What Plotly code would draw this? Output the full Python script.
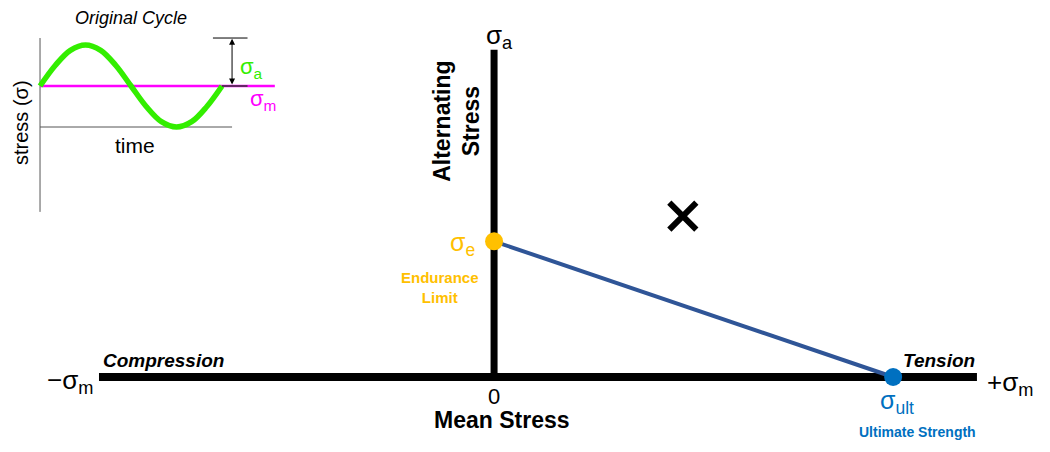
"""Goodman diagram with an inset of the original stress cycle."""

import plotly.graph_objects as go

# main diagram (arbitrary stress units, ultimate strength = 100)
SIGMA_ULT = 100
SIGMA_E = 34
OPERATING_POINT = (47.3, 40.3)
MEAN_AXIS_EXTENT = [-99, 121]
ALT_AXIS_EXTENT = [0, 82]

# inset: one cycle of the original stress history (time in periods, stress / amplitude)
cycle_time = [0, 1 / 12, 2 / 12, 3 / 12, 4 / 12, 5 / 12, 6 / 12, 7 / 12, 8 / 12, 9 / 12, 10 / 12, 11 / 12, 1]
cycle_stress = [0, 0.5, 0.87, 1, 0.87, 0.5, 0, -0.5, -0.87, -1, -0.87, -0.5, 0]
TIME_AXIS_EXTENT = [0, 1.055]
STRESS_AXIS_EXTENT = [-3.07, 1.17]
MEAN_LINE_EXTENT = [0, 1.29]
AMPLITUDE_MARK = 1.15

FONT = "Liberation Sans, Arial, sans-serif"
BLACK = "#000000"
ORANGE = "#FFC000"
BLUE = "#0070C0"
LINE_BLUE = "#2F5597"
GREEN = "#33EE00"
MAGENTA = "#FF00FF"

fig = go.Figure()

# ---- main Goodman diagram ----
fig.add_trace(go.Scatter(
    x=MEAN_AXIS_EXTENT, y=[0, 0], mode="lines",
    line=dict(color=BLACK, width=8), hoverinfo="skip",
))
fig.add_trace(go.Scatter(
    x=[0, 0], y=ALT_AXIS_EXTENT, mode="lines",
    line=dict(color=BLACK, width=7), hoverinfo="skip",
))
fig.add_trace(go.Scatter(
    x=[0, SIGMA_ULT], y=[SIGMA_E, 0], mode="lines",
    line=dict(color=LINE_BLUE, width=4), hoverinfo="skip",
))
fig.add_trace(go.Scatter(
    x=[0], y=[SIGMA_E], mode="markers",
    marker=dict(color=ORANGE, size=18), hoverinfo="skip",
))
fig.add_trace(go.Scatter(
    x=[SIGMA_ULT], y=[0], mode="markers",
    marker=dict(color=BLUE, size=18), hoverinfo="skip",
))
fig.add_trace(go.Scatter(
    x=[OPERATING_POINT[0]], y=[OPERATING_POINT[1]], mode="markers",
    marker=dict(symbol="x-thin", size=27, line=dict(color=BLACK, width=6)),
    hoverinfo="skip",
))

# ---- inset: original cycle ----
fig.add_trace(go.Scatter(
    x=[0, 0], y=STRESS_AXIS_EXTENT, mode="lines", xaxis="x2", yaxis="y2",
    line=dict(color="#555555", width=1), hoverinfo="skip",
))
fig.add_trace(go.Scatter(
    x=TIME_AXIS_EXTENT, y=[-1, -1], mode="lines", xaxis="x2", yaxis="y2",
    line=dict(color="#555555", width=1), hoverinfo="skip",
))
fig.add_trace(go.Scatter(
    x=MEAN_LINE_EXTENT, y=[0, 0], mode="lines", xaxis="x2", yaxis="y2",
    line=dict(color=MAGENTA, width=2.5), hoverinfo="skip",
))
fig.add_trace(go.Scatter(
    x=cycle_time, y=cycle_stress, mode="lines", xaxis="x2", yaxis="y2",
    line=dict(color=GREEN, width=5.5, shape="spline"), hoverinfo="skip",
))
fig.add_trace(go.Scatter(
    x=[0.95, 1.14], y=[STRESS_AXIS_EXTENT[1], STRESS_AXIS_EXTENT[1]], mode="lines",
    xaxis="x2", yaxis="y2", line=dict(color=BLACK, width=1), hoverinfo="skip",
))
fig.add_trace(go.Scatter(
    x=[1.0, 1.14], y=[0, 0], mode="lines",
    xaxis="x2", yaxis="y2", line=dict(color="#333333", width=1.5), hoverinfo="skip",
))

annotations = [
    # main diagram labels
    dict(x=0, y=ALT_AXIS_EXTENT[1], xref="x", yref="y", text="σ<sub>a</sub>",
         yanchor="bottom", yshift=-5, xshift=5, font=dict(size=26)),
    dict(x=-9.5, y=64, xref="x", yref="y", text="<b>Alternating<br>Stress</b>",
         textangle=-90, font=dict(size=23)),
    dict(x=-4.2, y=SIGMA_E, xref="x", yref="y", text="σ<sub>e</sub>",
         xanchor="right", yshift=-3, font=dict(size=25, color=ORANGE)),
    dict(x=-13.5, y=SIGMA_E - 11.5, xref="x", yref="y", text="<b>Endurance<br>Limit</b>",
         font=dict(size=15, color=ORANGE)),
    dict(x=-98.5, y=0, xref="x", yref="y", text="<b><i>Compression</i></b>",
         xanchor="left", yanchor="bottom", yshift=4, font=dict(size=19)),
    dict(x=121, y=0, xref="x", yref="y", text="<b><i>Tension</i></b>",
         xanchor="right", yanchor="bottom", yshift=4, font=dict(size=19)),
    dict(x=-100, y=0, xref="x", yref="y", text="−σ<sub>m</sub>",
         xanchor="right", yshift=-4, font=dict(size=26)),
    dict(x=123, y=0, xref="x", yref="y", text="+σ<sub>m</sub>",
         xanchor="left", yshift=-6, font=dict(size=26)),
    dict(x=0, y=0, xref="x", yref="y", text="0",
         yanchor="top", yshift=-5, font=dict(size=22)),
    dict(x=2, y=0, xref="x", yref="y", text="<b>Mean Stress</b>",
         yanchor="top", yshift=-28, font=dict(size=23)),
    dict(x=SIGMA_ULT + 1, y=0, xref="x", yref="y", text="σ<sub>ult</sub>",
         yanchor="top", yshift=-7, font=dict(size=25, color=BLUE)),
    dict(x=SIGMA_ULT + 6, y=0, xref="x", yref="y", text="<b>Ultimate Strength</b>",
         yanchor="top", yshift=-45, font=dict(size=14, color=BLUE)),
    # inset labels
    dict(x=0.5, y=1.65, xref="x2", yref="y2", text="<i>Original Cycle</i>",
         font=dict(size=18)),
    dict(x=-0.105, y=-0.88, xref="x2", yref="y2", text="stress (σ)",
         textangle=-90, font=dict(size=20)),
    dict(x=0.52, y=-1.45, xref="x2", yref="y2", text="time",
         font=dict(size=21)),
    dict(x=1.09, y=0.45, xref="x2", yref="y2", text="σ<sub>a</sub>",
         xanchor="left", font=dict(size=22, color=GREEN)),
    dict(x=1.14, y=-0.35, xref="x2", yref="y2", text="σ<sub>m</sub>",
         xanchor="left", font=dict(size=22, color=MAGENTA)),
    # amplitude arrow
    dict(x=1.055, y=AMPLITUDE_MARK, ax=1.055, ay=0, xref="x2", yref="y2",
         axref="x2", ayref="y2", text="", showarrow=True, arrowside="end+start",
         arrowhead=2, arrowsize=1.2, arrowwidth=1, arrowcolor=BLACK),
]
for a in annotations:
    a.setdefault("showarrow", False)
    a.setdefault("font", {})
    a["font"].setdefault("color", BLACK)
    a["font"].setdefault("size", 14)
    a["font"]["family"] = FONT

# the page body adds an 8px margin, so the figure is 16px smaller
fig.update_layout(
    width=1034,
    height=436,
    autosize=False,
    margin=dict(l=0, r=0, t=0, b=0),
    paper_bgcolor="white",
    plot_bgcolor="rgba(0,0,0,0)",
    showlegend=False,
    font=dict(family=FONT, color=BLACK, size=14),
    annotations=annotations,
    xaxis=dict(range=[-121.8, 137.3], visible=False, domain=[0, 1]),
    yaxis=dict(range=[-16.79, 92.48], visible=False, domain=[0, 1]),
    xaxis2=dict(range=[-0.176, 5.505], visible=False, overlaying="x", anchor="y2"),
    yaxis2=dict(range=[-8.73, 1.902], visible=False, overlaying="y", anchor="x2"),
)

fig.write_html("out.html")
